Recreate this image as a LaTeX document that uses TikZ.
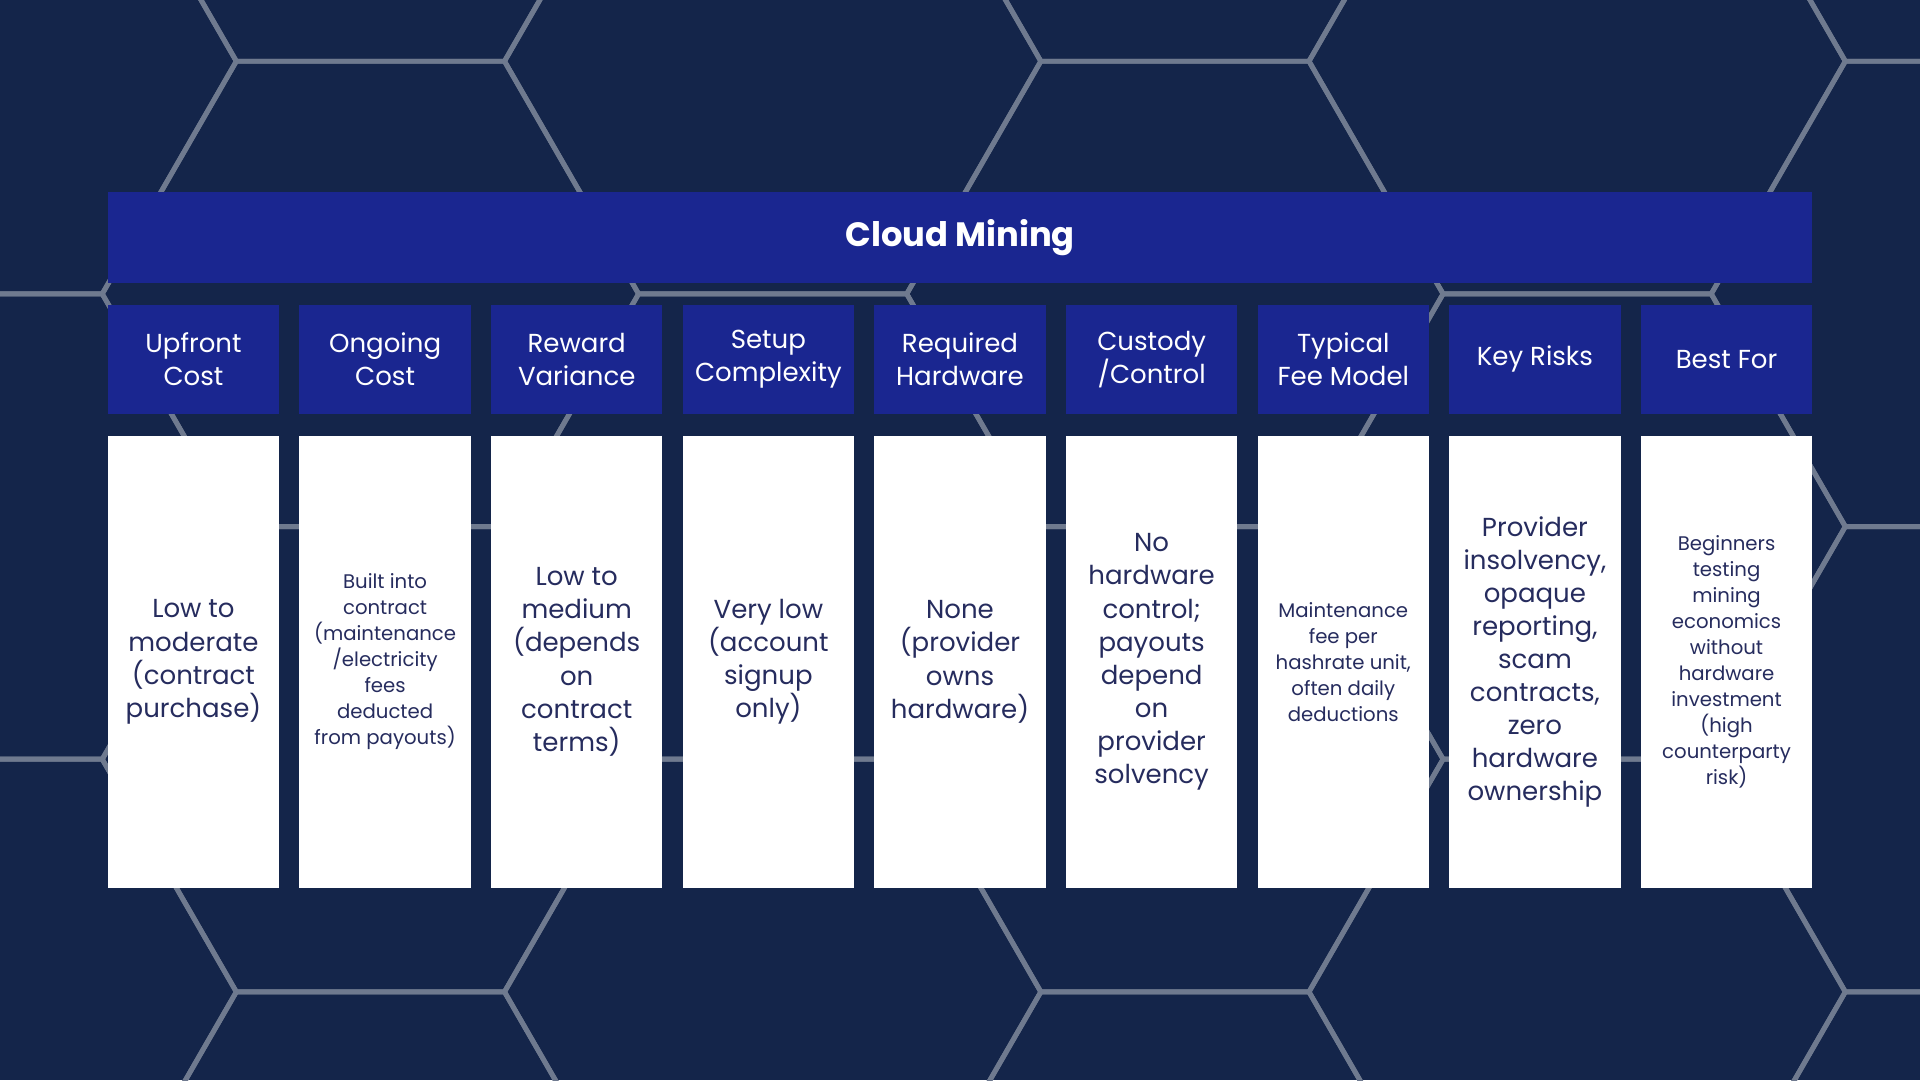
\documentclass[tikz,border=0pt]{standalone}
\usepackage{fontspec}
\setmainfont{Poppins}
\usetikzlibrary{positioning}
\definecolor{bgnavy}{HTML}{14254A}
\definecolor{hexgray}{HTML}{6F7A8F}
\definecolor{barblue}{HTML}{1A2690}
\definecolor{inkblue}{HTML}{262C5E}
\newdimen\pxu \pxu=0.012245cm
\begin{document}
\begin{tikzpicture}[x=0.012245cm, y=-0.012245cm,
    hexline/.style={draw=hexgray, line width=1.4pt},
    head/.style={fill=barblue, text=white, minimum width=140\pxu, minimum height=89\pxu, inner sep=0pt, align=center, font=\fontsize{7.4}{9.4}\selectfont},
    cell/.style={fill=white, text=inkblue, minimum width=140\pxu, minimum height=369\pxu, inner sep=0pt, align=center},
    big/.style={font=\fontsize{7.4}{9.4}\selectfont},
    small/.style={font=\fontsize{5.6}{7.4}\selectfont}]
    \fill[bgnavy] (0,0) rectangle (1568,882);
    \useasboundingbox (0,0) rectangle (1568,882);
    % honeycomb
    \begin{scope}
        \clip (0,0) rectangle (1568,882);
        \foreach \i in {-1,...,5}
        \foreach \j in {-3,...,3}
        {
            \pgfmathsetmacro\cx{302.5+328.5*\i}
            \pgfmathsetmacro\cy{240+190*\i+380*\j}
            \draw[hexline] (\cx-219,\cy) -- (\cx-109.5,\cy-190) -- (\cx+109.5,\cy-190)
                -- (\cx+219,\cy) -- (\cx+109.5,\cy+190) -- (\cx-109.5,\cy+190) -- cycle;
        }
    \end{scope}
    % title
    \node[fill=barblue, text=white, minimum width=1392\pxu, minimum height=75\pxu, inner sep=0pt, font=\fontsize{9.6}{11}\selectfont\bfseries] (title) at (784,194) {Cloud Mining};
    % columns
    \foreach \k/\hd/\st/\bd in {
        0/{Upfront\\Cost}/big/{Low to\\moderate\\(contract\\purchase)},
        1/{Ongoing\\Cost}/small/{Built into\\contract\\(maintenance\\/electricity\\fees\\deducted\\from payouts)},
        2/{Reward\\Variance}/big/{Low to\\medium\\(depends\\on\\contract\\terms)},
        3/{Setup\\Complexity}/big/{Very low\\(account\\signup\\only)},
        4/{Required\\Hardware}/big/{None\\(provider\\owns\\hardware)},
        5/{Custody\\/Control}/big/{No\\hardware\\control;\\payouts\\depend\\on\\provider\\solvency},
        6/{Typical\\Fee Model}/small/{Maintenance\\fee per\\hashrate unit,\\often daily\\deductions},
        7/{Key Risks}/big/{Provider\\insolvency,\\opaque\\reporting,\\scam\\contracts,\\zero\\hardware\\ownership},
        8/{Best For}/small/{Beginners\\testing\\mining\\economics\\without\\hardware\\investment\\(high\\counterparty\\risk)}}
    {
        \node[head] (h\k) at (158+156.5*\k,293.5) {\hd};
        \node[cell, \st] (c\k) at (158+156.5*\k,540.5) {\bd};
    }
\end{tikzpicture}
\end{document}
